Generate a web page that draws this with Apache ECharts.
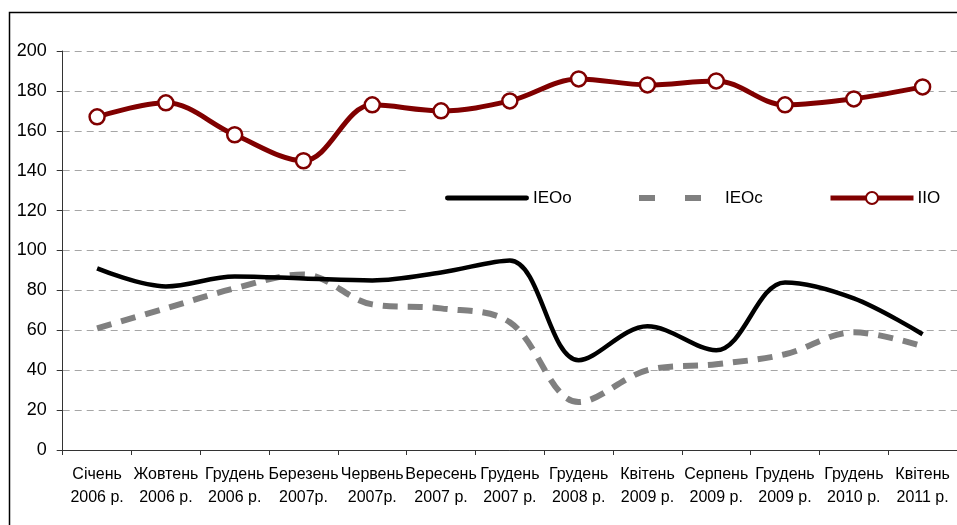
<!DOCTYPE html>
<html><head><meta charset="utf-8">
<script src="https://cdn.jsdelivr.net/npm/echarts@6/dist/echarts.min.js"></script>
<style>html,body{margin:0;padding:0;background:#fff}#c{width:957px;height:525px}</style>
</head><body><div id="c"></div>
<script>
const categories = ['Січень\n2006 р.','Жовтень\n2006 р.','Грудень\n2006 р.','Березень\n2007р.','Червень\n2007р.','Вересень\n2007 р.','Грудень\n2007 р.','Грудень\n2008 р.','Квітень\n2009 р.','Серпень\n2009 р.','Грудень\n2009 р.','Грудень\n2010 р.','Квітень\n2011 р.'];
const ieoo = [91, 82, 87, 86, 85, 89, 95, 45, 62, 50, 84, 76, 58];
const ieoc = [61, 71, 81, 88, 73, 71, 64, 24, 40, 43, 48, 59, 52];
const iio  = [167, 174, 158, 145, 173, 170, 175, 186, 183, 185, 173, 176, 182];
const yTicks = {min: 0, max: 200, interval: 20};

const chart = echarts.init(document.getElementById('c'));
const font = 'Liberation Sans, Arial, sans-serif';
const legText = {fontFamily: font, fontSize: 17, lineHeight: 20, color: '#000', padding: [0,0,0,-1]};
const legendCommon = {top: 188, padding: 0, itemGap: 0, selectedMode: false, textStyle: legText};
chart.setOption({
  animation: false,
  textStyle: {fontFamily: font},
  grid: {left: 62.7, top: 51, height: 399, width: 900, containLabel: false},
  graphic: [
    {type: 'rect', shape: {x: 9.5, y: 12.5, width: 1000, height: 600}, style: {fill: 'none', stroke: '#000', lineWidth: 1.5}, z: 10, silent: true},
    {type: 'rect', shape: {x: 408, y: 145, width: 560, height: 90}, style: {fill: '#fff'}, z: 1, silent: true}
  ],
  legend: [
    Object.assign({}, legendCommon, {left: 445, itemWidth: 84, itemHeight: 5,
      data: [{name: 'IEOo', icon: 'path://M2,0h80a2,2 0 0 1 0,5h-80a2,2 0 0 1 0,-5z'}]}),
    Object.assign({}, legendCommon, {left: 639, itemWidth: 62, itemHeight: 6,
      textStyle: Object.assign({}, legText, {padding: [0,0,0,19]}),
      data: [{name: 'IEOc', icon: 'path://M0,0h16v6h-16zM46,0h16v6h-16z'}]}),
    Object.assign({}, legendCommon, {left: 828, itemWidth: 83, itemHeight: 15,
      lineStyle: {width: 5, color: '#800000'}, data: ['IIO']})
  ],
  xAxis: {
    type: 'category', data: categories, boundaryGap: true,
    axisLine: {lineStyle: {color: '#333', width: 1}},
    axisTick: {show: true, alignWithLabel: false, length: 5, lineStyle: {color: '#333'}},
    axisLabel: {fontSize: 16, color: '#000', lineHeight: 23, margin: 13, interval: 0, fontFamily: font},
    splitLine: {show: false}
  },
  yAxis: {
    type: 'value', min: yTicks.min, max: yTicks.max, interval: yTicks.interval,
    axisLine: {show: true, lineStyle: {color: '#333', width: 1}},
    axisTick: {show: true, length: 6, lineStyle: {color: '#333'}},
    axisLabel: {fontSize: 18, color: '#000', margin: 16, fontFamily: font},
    splitLine: {show: true, lineStyle: {color: '#a6a6a6', type: [7, 5], width: 1}}
  },
  series: [
    {name: 'IEOo', type: 'line', data: ieoo, smooth: 0.35, showSymbol: false, symbol: 'none',
     lineStyle: {color: '#000', width: 4.5}, itemStyle: {color: '#000'}, z: 3},
    {name: 'IEOc', type: 'line', data: ieoc, smooth: 0.35, showSymbol: false, symbol: 'none',
     lineStyle: {color: '#808080', width: 6, type: [15, 10], cap: 'butt'}, itemStyle: {color: '#808080'}, z: 2},
    {name: 'IIO', type: 'line', data: iio, smooth: 0.35, symbol: 'circle', symbolSize: 15, showSymbol: true,
     lineStyle: {color: '#800000', width: 5}, itemStyle: {color: '#fff', borderColor: '#800000', borderWidth: 2.5}, z: 4}
  ]
});
</script></body></html>
